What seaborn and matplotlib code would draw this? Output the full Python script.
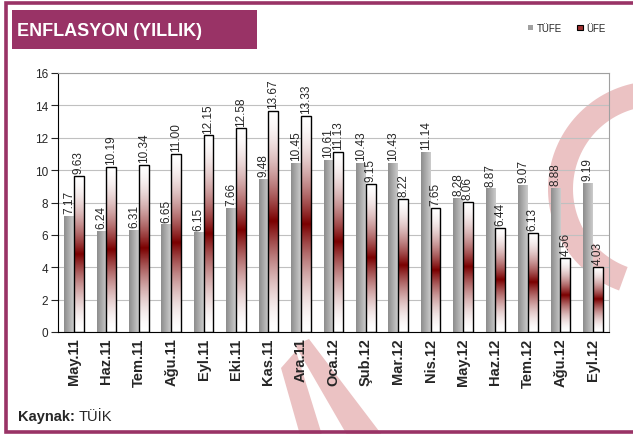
"""ENFLASYON (YILLIK) - TÜFE / ÜFE yıllık değişim grafiği."""
import matplotlib
matplotlib.use("Agg")
import matplotlib.pyplot as plt
from matplotlib.patches import Rectangle, Polygon
import numpy as np
import pandas as pd
import seaborn as sns

months = ["May.11", "Haz.11", "Tem.11", "Ağu.11", "Eyl.11", "Eki.11", "Kas.11",
          "Ara.11", "Oca.12", "Şub.12", "Mar.12", "Nis.12", "May.12", "Haz.12",
          "Tem.12", "Ağu.12", "Eyl.12"]
tufe = [7.17, 6.24, 6.31, 6.65, 6.15, 7.66, 9.48, 10.45, 10.61, 10.43, 10.43,
        11.14, 8.28, 8.87, 9.07, 8.88, 9.19]
ufe = [9.63, 10.19, 10.34, 11.00, 12.15, 12.58, 13.67, 13.33, 11.13, 9.15, 8.22,
       7.65, 8.06, 6.44, 6.13, 4.56, 4.03]
series = ["TÜFE", "ÜFE"]
y_ticks = [0, 2, 4, 6, 8, 10, 12, 14, 16]

MAROON = "#993366"
PINK = "#EBC2C3"

sns.set_style("white")
plt.rcParams["font.family"] = ["Liberation Sans", "DejaVu Sans"]

df = pd.DataFrame({
    "Ay": months * 2,
    "Seri": [series[0]] * len(months) + [series[1]] * len(months),
    "Deger": tufe + ufe,
})

W, H = 633, 435
fig = plt.figure(figsize=(W / 100, H / 100), dpi=100)

# background layer in pixel coordinates (frame, watermark, title, legend)
bg = fig.add_axes([0, 0, 1, 1], zorder=0)
bg.set_xlim(0, W)
bg.set_ylim(H, 0)
bg.axis("off")


def ring(cx, cy, r_out, r_in, a0, a1):
    a = np.radians(np.linspace(a0, a1, 80))
    outer = np.column_stack([cx + r_out * np.cos(a), cy - r_out * np.sin(a)])
    inner = np.column_stack([cx + r_in * np.cos(a), cy - r_in * np.sin(a)])[::-1]
    return np.vstack([outer, inner])


bg.add_patch(Polygon(ring(656, 190, 108, 83, 75, 250), color=PINK, lw=0))
bg.add_patch(Polygon([(281, 369), (296, 352), (322, 436), (300, 436)], color=PINK, lw=0))
bg.add_patch(Polygon([(295, 346), (309, 340), (382, 436), (347, 436)], color=PINK, lw=0))

bg.plot([640, 6, 6, 640], [4, 4, 433, 433], color=MAROON, lw=2.6, solid_joinstyle="miter")
bg.add_patch(Rectangle((12, 11), 245, 39, color=MAROON, lw=0))
bg.text(17, 31, "ENFLASYON (YILLIK)", color="white", fontsize=13,
        fontweight="bold", va="center", ha="left")

bg.add_patch(Rectangle((528, 25.5), 5, 5, facecolor="#a0a0a0", lw=0))
bg.text(537, 28.5, "TÜFE", fontsize=7, va="center")
bg.add_patch(Rectangle((577, 25.5), 6, 5, facecolor="#a03030", edgecolor="black", lw=0.8))
bg.text(586, 28.5, "ÜFE", fontsize=7, va="center")

bg.text(18, 417, "Kaynak:", fontsize=10.5, fontweight="bold", va="center")
bg.text(79, 417, "TÜİK", fontsize=10.5, va="center")

# chart
ax = fig.add_axes([57.7 / W, (H - 333) / H, (609 - 57.7) / W, (333 - 74) / H], zorder=1)
ax.patch.set_alpha(0)

sns.barplot(data=df, x="Ay", y="Deger", hue="Seri", hue_order=series,
            palette=["#a8a8a8", "#ffffff"], width=0.6, gap=0, legend=False,
            ax=ax, saturation=1)

gray_grad = np.linspace(0, 1, 64)
gray_img = np.empty((1, 64, 3))
for i, c in enumerate(np.array([0x8c, 0x8c, 0x8c]) / 255):
    gray_img[0, :, i] = c + (0.80 - c) * gray_grad

s = np.linspace(0, 1, 200)
t = (1 - np.abs(2 * s - 1)) ** 1.7
red = np.array([0.48, 0.0, 0.0])
red_img = (1 - t)[:, None, None] * np.ones(3) + t[:, None, None] * red

for cont, img in zip(ax.containers, [gray_img, red_img]):
    for p in cont:
        x0, w, h = p.get_x(), p.get_width(), p.get_height()
        im = ax.imshow(img, extent=[x0, x0 + w, 0, h], aspect="auto",
                       interpolation="bilinear", zorder=2, origin="upper")
        im.set_clip_path(p)
        p.set_facecolor("none")
        p.set_zorder(3)

for p in ax.containers[1]:
    p.set_edgecolor("black")
    p.set_linewidth(1.0)
for p in ax.containers[0]:
    p.set_linewidth(0)

for cont, vals in zip(ax.containers, [tufe, ufe]):
    ax.bar_label(cont, labels=[f"{v:.2f}" for v in vals], rotation=90,
                 padding=2, fontsize=8.5)

ax.set_xlim(-0.5, len(months) - 0.5)
ax.set_ylim(0, 16)
ax.set_yticks(y_ticks)
ax.set_xticks(np.arange(len(months)))
ax.set_xticklabels(months, rotation=90, fontweight="bold", fontsize=10.5)
ax.set_xticks(np.arange(len(months) + 1) - 0.5, minor=True)
ax.tick_params(axis="x", which="major", length=0, pad=4)
ax.tick_params(axis="x", which="minor", length=7, direction="inout", width=0.8, color="black")
ax.tick_params(axis="y", length=5, direction="out", width=0.8, labelsize=8.5, pad=2, left=True)
ax.set_xlabel("")
ax.set_ylabel("")

ax.grid(axis="y", color="#c0c0c0", lw=0.8)
ax.set_axisbelow(True)
for side in ["top", "right"]:
    ax.spines[side].set_color("#a0a0a0")
    ax.spines[side].set_linewidth(0.8)
for side in ["left", "bottom"]:
    ax.spines[side].set_color("black")
    ax.spines[side].set_linewidth(0.8)

fig.savefig("out.png", dpi=100)
